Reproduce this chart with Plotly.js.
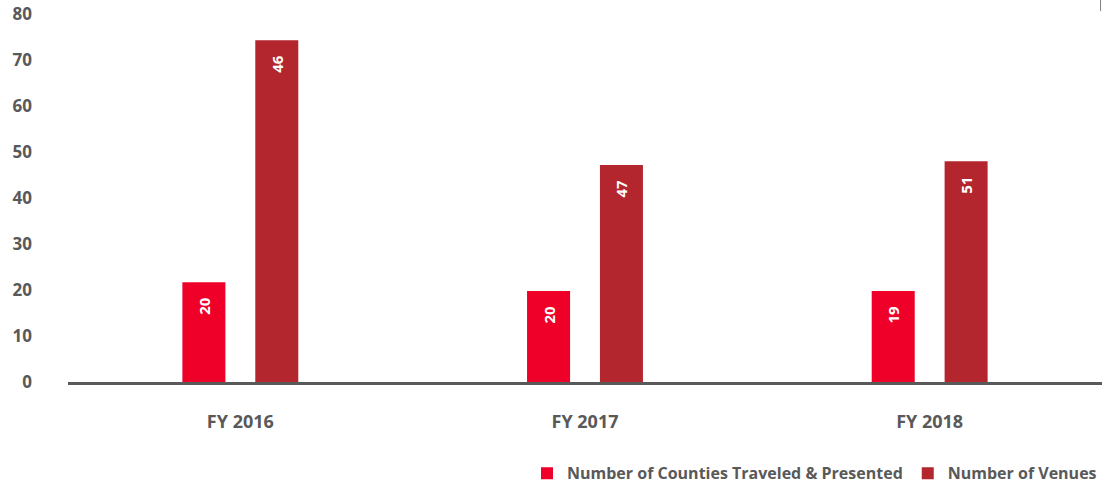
<!DOCTYPE html>
<html>
<head>
<meta charset="utf-8">
<script src="https://cdn.plot.ly/plotly-3.0.1.min.js"></script>
<style>html,body{margin:0;padding:0;background:#fff;}#chart{width:1113px;height:489px;}</style>
</head>
<body>
<div id="chart"></div>
<script>
const categories = ["FY 2016", "FY 2017", "FY 2018"];
const countiesHeights = [21.7, 19.8, 19.8];
const countiesLabels = ["20", "20", "19"];
const venuesHeights = [74.3, 47.2, 48.0];
const venuesLabels = ["46", "47", "51"];
const yTicks = [0, 10, 20, 30, 40, 50, 60, 70, 80];

const gray = "#595959";
const fontFam = "'Open Sans', Lato, sans-serif";

const labelFont = {color: "#ffffff", size: 15, family: fontFam, weight: "bold"};
const pad = "\u2002\u2009\u2009";

const traces = [
  {
    type: "bar", name: "Number of Counties Traveled & Presented",
    x: categories, y: countiesHeights, text: countiesLabels.map(s => s + pad),
    textposition: "inside", insidetextanchor: "end", textangle: -90,
    textfont: labelFont, marker: {color: "#EE0029"}, hoverinfo: "none"
  },
  {
    type: "bar", name: "Number of Venues",
    x: categories, y: venuesHeights, text: venuesLabels.map(s => s + pad),
    textposition: "inside", insidetextanchor: "end", textangle: -90,
    textfont: labelFont, marker: {color: "#B3262E"}, hoverinfo: "none"
  }
];

const layout = {
  width: 1113, height: 489,
  margin: {l: 67.5, r: 10.5, t: 14, b: 107, autoexpand: false},
  paper_bgcolor: "#fff", plot_bgcolor: "#fff",
  barmode: "group", bargap: 0.577, bargroupgap: 0.41,
  font: {family: fontFam, color: gray, size: 16, weight: "bold"},
  showlegend: true,
  legend: {
    orientation: "h", x: 1.0, xanchor: "right", y: -0.248, yanchor: "middle",
    font: {size: 16, color: gray, family: fontFam, weight: "bold"},
    traceorder: "normal", itemwidth: 30
  },
  xaxis: {
    type: "category", showgrid: false, zeroline: false,
    showline: true, linecolor: gray, linewidth: 2.5,
    ticks: "", ticklabelstandoff: 22,
    tickfont: {size: 18, color: gray, family: fontFam, weight: "bold"}
  },
  yaxis: {
    range: [0, 80], tickvals: yTicks, showgrid: false, zeroline: false,
    showline: false, ticks: "", ticklabelstandoff: 35,
    tickfont: {size: 17, color: gray, family: fontFam, weight: "bold"}
  },
  shapes: [
    {type: "line", xref: "paper", yref: "paper", x0: 0.9986, x1: 0.9986, y0: 1.038, y1: 1.008,
     line: {color: "#7f7f7f", width: 1}}
  ]
};

Plotly.newPlot("chart", traces, layout, {staticPlot: true});
</script>
</body>
</html>
